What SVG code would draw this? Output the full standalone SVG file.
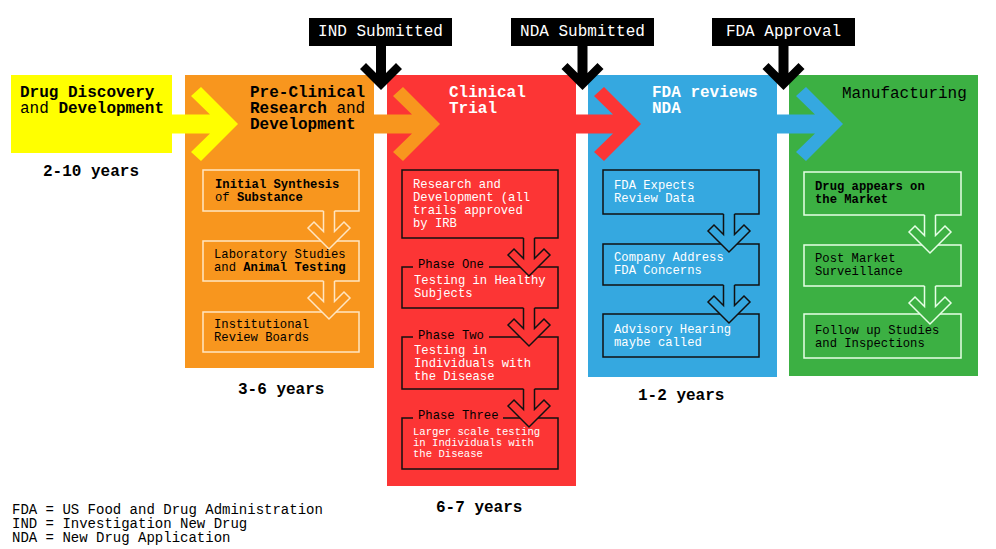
<svg xmlns="http://www.w3.org/2000/svg" xmlns:xlink="http://www.w3.org/1999/xlink" width="996" height="549" viewBox="0 0 996 549">
<style>
text{font-family:"Liberation Mono","Courier New",monospace;fill:#000}
.t16{font-size:16px}
.t13{font-size:12.2px}
.t11{font-size:10.6px}
.t14{font-size:14px}
.b{font-weight:bold}
.w{fill:#fff}
.lbl{text-anchor:middle}
.ob{fill:none;stroke:#ffe6c2;stroke-width:1.5}
.gb{fill:none;stroke:#e6ffe6;stroke-width:1.5}
.kb{fill:none;stroke:#111;stroke-width:1.5}
</style>
<defs>
<g id="ha">
<path d="M-5.5 -39 V-17.5 L-15 -27 L-21 -21 L0 0 L21 -21 L15 -27 L5.5 -17.5 V-39 Z" stroke="none"/>
<path d="M-5.5 -38 V-17.5 L-15 -27 L-21 -21 L0 0 L21 -21 L15 -27 L5.5 -17.5 V-38" fill="none"/>
</g>
<path id="bc" d="M-5 -46 V-17 L-15 -27 L-21 -21 L0 0 L21 -21 L15 -27 L5 -17 V-46 Z" fill="#000"/>
</defs>
<rect width="996" height="549" fill="#fff"/>

<!-- panels -->
<g id="panel-discovery">
<rect x="11" y="75" width="161" height="78" fill="#ffff00"/>
</g>
<g id="panel-preclinical">
<rect x="185" y="75" width="189" height="293" fill="#f8961e"/>
</g>
<g id="panel-clinical">
<rect x="387" y="75" width="189" height="411" fill="#fc3535"/>
</g>
<g id="panel-review">
<rect x="588" y="75" width="189" height="302" fill="#35a8e0"/>
</g>
<g id="panel-manufacturing">
<rect x="789" y="75" width="189" height="301" fill="#3cb043"/>
</g>

<!-- inner boxes -->
<g id="box-synthesis"><rect class="ob" x="203" y="170" width="156" height="41"/></g>
<g id="box-lab"><rect class="ob" x="203" y="241" width="156" height="40"/></g>
<g id="box-irb"><rect class="ob" x="203" y="312" width="156" height="40"/></g>

<g id="box-rd"><rect class="kb" x="402" y="170" width="156" height="68"/></g>
<g id="box-phase1"><path class="kb" d="M413 267 H402 V308 H558 V267 H489"/></g>
<g id="box-phase2"><path class="kb" d="M413 337 H402 V389 H558 V337 H489"/></g>
<g id="box-phase3"><path class="kb" d="M413 418 H402 V469 H558 V418 H503"/></g>

<g id="box-expects"><rect class="kb" x="603" y="170" width="156" height="44"/></g>
<g id="box-company"><rect class="kb" x="603" y="244" width="156" height="41"/></g>
<g id="box-advisory"><rect class="kb" x="603" y="314" width="156" height="43"/></g>

<g id="box-market"><rect class="gb" x="804" y="172" width="157" height="43"/></g>
<g id="box-surveillance"><rect class="gb" x="804" y="245" width="157" height="41"/></g>
<g id="box-followup"><rect class="gb" x="804" y="314" width="157" height="44"/></g>

<!-- milestone labels -->
<g id="ms-ind"><rect x="309" y="18" width="143" height="28" fill="#000"/><text class="t16 w lbl" x="380.5" y="36">IND Submitted</text></g>
<g id="ms-nda"><rect x="511" y="18" width="143" height="28" fill="#000"/><text class="t16 w lbl" x="582.5" y="36">NDA Submitted</text></g>
<g id="ms-fda"><rect x="712" y="18" width="143" height="28" fill="#000"/><text class="t16 w lbl" x="783.5" y="36">FDA Approval</text></g>

<!-- connectors -->
<g id="connectors">
<path d="M170 114.5 H210 L191 96 L201 87 L238 124 L201 161 L191 152 L210 133.5 H170 Z" fill="#ffff00"/>
<path d="M370 114.5 H412 L393 96 L403 87 L440 124 L403 161 L393 152 L412 133.5 H370 Z" fill="#f8961e"/>
<path d="M572 114.5 H613 L594 96 L604 87 L641 124 L604 161 L594 152 L613 133.5 H572 Z" fill="#fc3535"/>
<path d="M774 114.5 H815 L796 96 L806 87 L843 124 L806 161 L796 152 L815 133.5 H774 Z" fill="#35a8e0"/>
<use xlink:href="#bc" href="#bc" x="381" y="90"/>
<use xlink:href="#bc" href="#bc" x="582.5" y="90"/>
<use xlink:href="#bc" href="#bc" x="783.5" y="90"/>
<use xlink:href="#ha" href="#ha" x="329" y="249" fill="#f8961e" stroke="#ffe6c2" stroke-width="1.5"/>
<use xlink:href="#ha" href="#ha" x="329" y="319" fill="#f8961e" stroke="#ffe6c2" stroke-width="1.5"/>
<use xlink:href="#ha" href="#ha" x="529" y="276" fill="#fc3535" stroke="#111" stroke-width="1.5"/>
<use xlink:href="#ha" href="#ha" x="529" y="346" fill="#fc3535" stroke="#111" stroke-width="1.5"/>
<use xlink:href="#ha" href="#ha" x="529" y="427" fill="#fc3535" stroke="#111" stroke-width="1.5"/>
<use xlink:href="#ha" href="#ha" x="729" y="252" fill="#35a8e0" stroke="#111" stroke-width="1.5"/>
<use xlink:href="#ha" href="#ha" x="729" y="323" fill="#35a8e0" stroke="#111" stroke-width="1.5"/>
<use xlink:href="#ha" href="#ha" x="930" y="253" fill="#3cb043" stroke="#e6ffe6" stroke-width="1.5"/>
<use xlink:href="#ha" href="#ha" x="930" y="324" fill="#3cb043" stroke="#e6ffe6" stroke-width="1.5"/>
</g>

<!-- titles -->
<g id="title-discovery">
<text class="t16" x="20" y="97"><tspan class="b">Drug Discovery</tspan></text>
<text class="t16" x="20" y="113">and <tspan class="b">Development</tspan></text>
<text class="t16 b" x="43" y="176">2-10 years</text>
</g>
<g id="title-preclinical">
<text class="t16 b" x="250" y="97">Pre-Clinical</text>
<text class="t16" x="250" y="113"><tspan class="b">Research</tspan> and</text>
<text class="t16 b" x="250" y="129">Development</text>
<text class="t16 b" x="238" y="394">3-6 years</text>
</g>
<g id="title-clinical">
<text class="t16 b w" x="449" y="97">Clinical</text>
<text class="t16 b w" x="449" y="113">Trial</text>
<text class="t16 b" x="436" y="512">6-7 years</text>
</g>
<g id="title-review">
<text class="t16 b w" x="652" y="97">FDA reviews</text>
<text class="t16 b w" x="652" y="113">NDA</text>
<text class="t16 b" x="638" y="400">1-2 years</text>
</g>
<g id="title-manufacturing">
<text class="t16" x="842" y="98">Manufacturing</text>
</g>

<!-- inner texts -->
<g id="txt-orange">
<text class="t13" x="215" y="188"><tspan class="b">Initial Synthesis</tspan></text>
<text class="t13" x="215" y="201">of <tspan class="b">Substance</tspan></text>
<text class="t13" x="214" y="258">Laboratory Studies</text>
<text class="t13" x="214" y="271">and <tspan class="b">Animal Testing</tspan></text>
<text class="t13" x="214" y="328">Institutional</text>
<text class="t13" x="214" y="341">Review Boards</text>
</g>
<g id="txt-red">
<text class="t13 w" x="413" y="188">Research and</text>
<text class="t13 w" x="413" y="201">Development (all</text>
<text class="t13 w" x="413" y="214">trails approved</text>
<text class="t13 w" x="413" y="227">by IRB</text>
<text class="t13" x="418" y="268">Phase One</text>
<text class="t13 w" x="414" y="284">Testing in Healthy</text>
<text class="t13 w" x="414" y="297">Subjects</text>
<text class="t13" x="418" y="339">Phase Two</text>
<text class="t13 w" x="414" y="354">Testing in</text>
<text class="t13 w" x="414" y="367">Individuals with</text>
<text class="t13 w" x="414" y="380">the Disease</text>
<text class="t13" x="418" y="419">Phase Three</text>
<text class="t11 w" x="413" y="435">Larger scale testing</text>
<text class="t11 w" x="413" y="446">in Individuals with</text>
<text class="t11 w" x="413" y="457">the Disease</text>
</g>
<g id="txt-blue">
<text class="t13 w" x="614" y="189">FDA Expects</text>
<text class="t13 w" x="614" y="202">Review Data</text>
<text class="t13 w" x="614" y="261">Company Address</text>
<text class="t13 w" x="614" y="274">FDA Concerns</text>
<text class="t13 w" x="614" y="333">Advisory Hearing</text>
<text class="t13 w" x="614" y="346">maybe called</text>
</g>
<g id="txt-green">
<text class="t13 b" x="815" y="190">Drug appears on</text>
<text class="t13 b" x="815" y="203">the Market</text>
<text class="t13" x="815" y="262">Post Market</text>
<text class="t13" x="815" y="275">Surveillance</text>
<text class="t13" x="815" y="334">Follow up Studies</text>
<text class="t13" x="815" y="347">and Inspections</text>
</g>

<g id="legend">
<text class="t14" x="12" y="514">FDA = US Food and Drug Administration</text>
<text class="t14" x="12" y="528">IND = Investigation New Drug</text>
<text class="t14" x="12" y="542">NDA = New Drug Application</text>
</g>
</svg>
